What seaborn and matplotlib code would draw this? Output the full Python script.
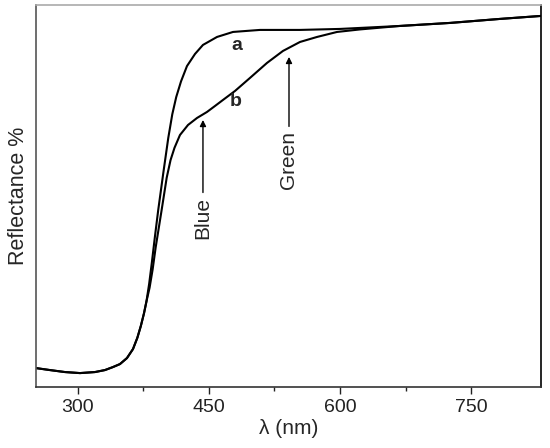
import pandas as pd
import seaborn as sns
import matplotlib.pyplot as plt

# values (wavelength in nm, reflectance in %)
common_wl = [251.9, 267.9, 285.1, 302.3, 319.5, 330.9, 340.1, 348.1, 356.1,
             363.0, 368.0, 372.0, 375.6, 378.4]
common_r = [4.97, 4.45, 3.93, 3.66, 3.93, 4.45, 5.24, 6.02, 7.59,
            9.95, 12.9, 16.0, 19.3, 22.4]

a_wl = [381.5, 384.6, 388.2, 391.9, 397.7, 403.4, 408.0, 412.5, 418.0,
        424.8, 434.0, 443.1, 459.2, 477.5, 508.4, 554.2, 600.0, 668.7,
        726.0, 783.2, 830.1]
a_r = [27.0, 32.6, 39.53, 46.34, 56.02, 65.2, 71.4, 75.9, 80.0,
       84.0, 87.17, 89.53, 91.62, 92.93, 93.46, 93.46, 93.72, 94.50,
       95.29, 96.34, 97.12]

b_wl = [382.0, 385.5, 389.0, 395.8, 401.6, 406.0, 410.5, 416.8, 426.0,
        436.3, 447.7, 456.9, 466.0, 479.8, 496.9, 516.4, 534.7, 554.2,
        573.7, 596.6, 622.9, 668.7, 726.0, 783.2, 830.1]
b_r = [26.0, 30.8, 36.6, 46.34, 54.8, 59.4, 62.6, 65.97, 68.59,
       70.42, 71.99, 73.56, 75.13, 77.49, 80.89, 84.82, 87.96, 90.31,
       91.62, 92.93, 93.59, 94.50, 95.29, 96.34, 97.12]

x_ticks = [300, 450, 600, 750]
minor_ticks = [375, 525, 675]

rows = []
for name, wl, r in [("a", common_wl + a_wl, common_r + a_r),
                    ("b", common_wl + b_wl, common_r + b_r)]:
    for w, v in zip(wl, r):
        rows.append({"sample": name, "wavelength": w, "reflectance": v})
df = pd.DataFrame(rows)

sns.set_style("white")
plt.rcParams['font.family'] = ['Liberation Sans', 'DejaVu Sans']

fig = plt.figure(figsize=(5.5, 4.48), dpi=100)
ax = fig.add_axes([0.0655, 0.136, 0.918, 0.853])

sns.lineplot(
    data=df,
    x="wavelength",
    y="reflectance",
    hue="sample",
    palette=["black", "black"],
    linewidth=1.5,
    legend=False,
    ax=ax,
)

ax.set_xlim(252, 830)
ax.set_ylim(0, 100)
ax.set_xticks(x_ticks)
ax.set_xticks(minor_ticks, minor=True)
ax.set_yticks([])
ax.tick_params(axis='x', which='major', direction='out', length=5, width=1,
               labelsize=14, bottom=True, colors='#222222')
ax.tick_params(axis='x', which='minor', direction='out', length=3, width=1,
               bottom=True, colors='#222222')
ax.set_xlabel("λ (nm)", fontsize=15, labelpad=2)
ax.set_ylabel("Reflectance %", fontsize=15.5, labelpad=5)

for side, col in [("top", "#aaaaaa"), ("left", "#555555"),
                  ("bottom", "#333333"), ("right", "black")]:
    ax.spines[side].set_color(col)
    ax.spines[side].set_linewidth(1.2)

ax.text(482, 89.5, "a", fontsize=14, fontweight="bold", ha="center", va="center")
ax.text(481, 74.6, "b", fontsize=14, fontweight="bold", ha="center", va="center")

arrow = dict(arrowstyle="-|>", color="black", lw=1, mutation_scale=9,
             shrinkA=1, shrinkB=0)
ax.annotate("Blue", xy=(443.1, 69.9), xytext=(443.1, 44.2), rotation=90,
            ha="center", va="center", fontsize=15, arrowprops=arrow)
ax.annotate("Green", xy=(541.6, 86.4), xytext=(541.6, 59.4), rotation=90,
            ha="center", va="center", fontsize=15, arrowprops=arrow)

plt.savefig("out.png", dpi=100)
